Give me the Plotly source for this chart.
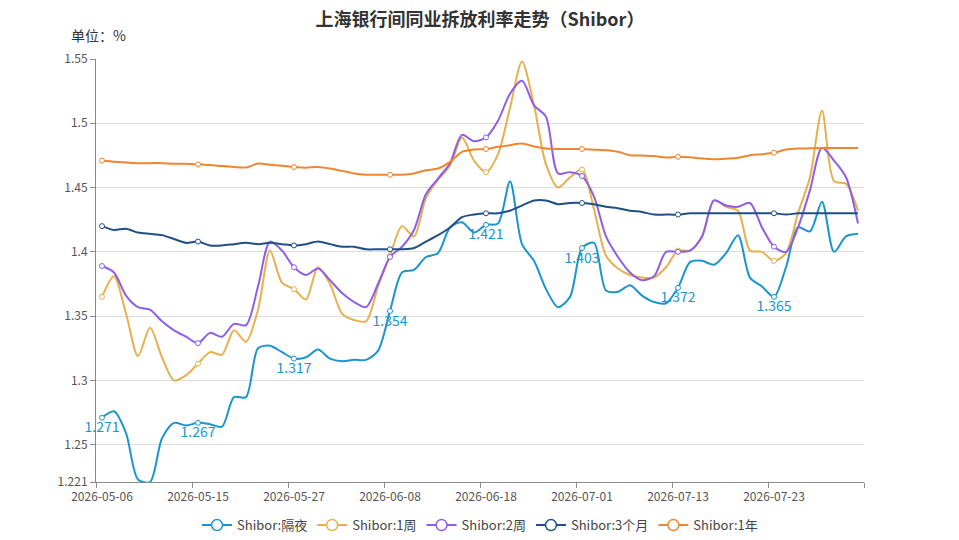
import plotly.graph_objects as go

# 交易日（类目轴）
dates = [
    "2026-05-06", "2026-05-07", "2026-05-08", "2026-05-09", "2026-05-11", "2026-05-12",
    "2026-05-13", "2026-05-14", "2026-05-15", "2026-05-18", "2026-05-19", "2026-05-20",
    "2026-05-21", "2026-05-22", "2026-05-25", "2026-05-26", "2026-05-27", "2026-05-28",
    "2026-05-29", "2026-06-01", "2026-06-02", "2026-06-03", "2026-06-04", "2026-06-05",
    "2026-06-08", "2026-06-09", "2026-06-10", "2026-06-11", "2026-06-12", "2026-06-15",
    "2026-06-16", "2026-06-17", "2026-06-18", "2026-06-22", "2026-06-23", "2026-06-24",
    "2026-06-25", "2026-06-26", "2026-06-29", "2026-06-30", "2026-07-01", "2026-07-02",
    "2026-07-03", "2026-07-06", "2026-07-07", "2026-07-08", "2026-07-09", "2026-07-10",
    "2026-07-13", "2026-07-14", "2026-07-15", "2026-07-16", "2026-07-17", "2026-07-20",
    "2026-07-21", "2026-07-22", "2026-07-23", "2026-07-24", "2026-07-27", "2026-07-28",
    "2026-07-29", "2026-07-30", "2026-07-31", "2026-08-03",
]

overnight = [
    1.271, 1.276, 1.259, 1.223, 1.221, 1.255, 1.267, 1.265, 1.267, 1.266, 1.264, 1.287,
    1.287, 1.325, 1.327, 1.322, 1.317, 1.318, 1.324, 1.317, 1.315, 1.316, 1.316, 1.323,
    1.354, 1.384, 1.386, 1.396, 1.399, 1.419, 1.423, 1.415, 1.421, 1.422, 1.455, 1.406,
    1.393, 1.371, 1.357, 1.365, 1.403, 1.407, 1.370, 1.369, 1.374, 1.366, 1.361, 1.360,
    1.372, 1.392, 1.393, 1.390, 1.399, 1.413, 1.380, 1.373, 1.365, 1.388, 1.419, 1.416,
    1.439, 1.400, 1.412, 1.414,
]

week1 = [
    1.365, 1.381, 1.352, 1.319, 1.341, 1.318, 1.300, 1.304, 1.313, 1.322, 1.320, 1.339,
    1.330, 1.355, 1.401, 1.376, 1.371, 1.363, 1.388, 1.375, 1.352, 1.347, 1.346, 1.373,
    1.397, 1.420, 1.412, 1.442, 1.456, 1.467, 1.489, 1.471, 1.462, 1.476, 1.512, 1.548,
    1.514, 1.468, 1.450, 1.458, 1.464, 1.433, 1.397, 1.387, 1.382, 1.380, 1.380, 1.388,
    1.401, 1.401, 1.412, 1.440, 1.435, 1.432, 1.401, 1.400, 1.393, 1.399, 1.430, 1.458,
    1.510, 1.455, 1.453, 1.432,
]

week2 = [
    1.389, 1.384, 1.366, 1.357, 1.355, 1.346, 1.339, 1.334, 1.329, 1.337, 1.334, 1.344,
    1.343, 1.373, 1.408, 1.401, 1.388, 1.382, 1.387, 1.378, 1.368, 1.361, 1.357, 1.375,
    1.396, 1.404, 1.417, 1.445, 1.457, 1.469, 1.491, 1.486, 1.489, 1.502, 1.523, 1.533,
    1.514, 1.505, 1.461, 1.462, 1.459, 1.443, 1.412, 1.396, 1.384, 1.378, 1.381, 1.400,
    1.400, 1.401, 1.412, 1.440, 1.436, 1.435, 1.438, 1.419, 1.404, 1.400, 1.419, 1.448,
    1.481, 1.471, 1.458, 1.422,
]

month3 = [
    1.420, 1.417, 1.418, 1.415, 1.414, 1.413, 1.410, 1.407, 1.408, 1.405, 1.405, 1.406,
    1.407, 1.406, 1.407, 1.406, 1.405, 1.406, 1.408, 1.406, 1.404, 1.404, 1.402, 1.402,
    1.402, 1.402, 1.403, 1.408, 1.413, 1.419, 1.427, 1.429, 1.430, 1.430, 1.432, 1.436,
    1.440, 1.440, 1.437, 1.438, 1.438, 1.437, 1.435, 1.434, 1.432, 1.431, 1.429, 1.429,
    1.429, 1.430, 1.430, 1.430, 1.430, 1.430, 1.430, 1.430, 1.430, 1.429, 1.430, 1.430,
    1.430, 1.430, 1.430, 1.430,
]

year1 = [
    1.4710, 1.4700, 1.4695, 1.4690, 1.4690, 1.4690, 1.4685, 1.4685, 1.4680, 1.4675, 1.4667, 1.4660,
    1.4656, 1.4687, 1.4678, 1.4670, 1.4660, 1.4655, 1.4660, 1.4648, 1.4630, 1.4610, 1.4600, 1.4600,
    1.4600, 1.4600, 1.4610, 1.4635, 1.4648, 1.4700, 1.4778, 1.4796, 1.4800, 1.4817, 1.4830, 1.4843,
    1.4820, 1.4804, 1.4800, 1.4800, 1.4800, 1.4795, 1.4790, 1.4778, 1.4752, 1.4750, 1.4745, 1.4734,
    1.4739, 1.4735, 1.4726, 1.4721, 1.4725, 1.4732, 1.4752, 1.4760, 1.4771, 1.4796, 1.4804, 1.4805,
    1.4807, 1.4807, 1.4807, 1.4807,
]

names = ["Shibor:隔夜", "Shibor:1周", "Shibor:2周", "Shibor:3个月", "Shibor:1年"]
colors = ["#1a96cd", "#e6b04e", "#8e5ee6", "#1f4f86", "#f0852f"]
y_ticks = [1.221, 1.25, 1.3, 1.35, 1.4, 1.45, 1.5, 1.55]

x = list(range(len(dates)))
step = 8  # 每8个点显示一个标记
sizes = [5 if i % step == 0 else 0 for i in x]
opac = [1 if i % step == 0 else 0 for i in x]

fig = go.Figure()
for name, vals, c in zip(names, [overnight, week1, week2, month3, year1], colors):
    labels = name == "Shibor:隔夜"
    fig.add_trace(go.Scatter(
        x=x, y=vals,
        mode="lines+markers+text" if labels else "lines+markers",
        text=[f"{v:.3f}" if i % step == 0 else "" for i, v in enumerate(vals)] if labels else None,
        textposition="bottom center",
        textfont=dict(color=c, size=14),
        line=dict(color=c, width=2, shape="spline", smoothing=0.8),
        marker=dict(size=sizes, opacity=opac, color="white", line=dict(color=c, width=1)),
        cliponaxis=False,
        showlegend=False, hoverinfo="skip",
    ))
    # legend only
    fig.add_trace(go.Scatter(
        x=[None], y=[None], mode="lines+markers", name=name,
        line=dict(color=c, width=2),
        marker=dict(size=11, color="white", line=dict(color=c, width=1.5)),
    ))

# the page body adds 8px, so margins are shifted by -8
axis_color = "#8a8a8a"
fig.update_layout(
    width=959, height=540,
    margin=dict(l=88, r=103, t=51, b=66, autoexpand=False),
    plot_bgcolor="white", paper_bgcolor="white",
    font=dict(family="Noto Sans CJK SC, Noto Sans, sans-serif", size=12, color="#555"),
    title=dict(text="<b>上海银行间同业拆放利率走势（Shibor）</b>", x=472 / 959, xanchor="center",
               y=0.99, yanchor="top", yref="container", font=dict(size=18, color="#333")),
    legend=dict(orientation="h", x=0.5, xanchor="center", y=-0.102, yanchor="middle",
                font=dict(size=13, color="#444")),
    xaxis=dict(range=[-0.5, 63.5], tickmode="array", tickvals=x[::step], ticktext=dates[::step],
               ticks="", showgrid=False, showline=True, linecolor=axis_color, zeroline=False,
               ticklabelstandoff=4,
               minor=dict(tickmode="linear", tick0=-0.5, dtick=step, ticks="outside", ticklen=5,
                          tickcolor=axis_color, showgrid=False),
               tickfont=dict(size=12, color="#555")),
    yaxis=dict(range=[1.221, 1.55], tickmode="array", tickvals=y_ticks,
               ticktext=[f"{v:g}" for v in y_ticks], ticks="outside", ticklen=5, tickcolor=axis_color,
               showline=True, linecolor=axis_color, gridcolor="#dcdcdc", zeroline=False,
               tickfont=dict(size=12, color="#555")),
    annotations=[dict(text="单位：%", xref="paper", yref="paper", x=-0.035, y=1.057,
                      xanchor="left", yanchor="middle", showarrow=False,
                      font=dict(size=14, color="#333"))],
)

fig.write_html("out.html")
